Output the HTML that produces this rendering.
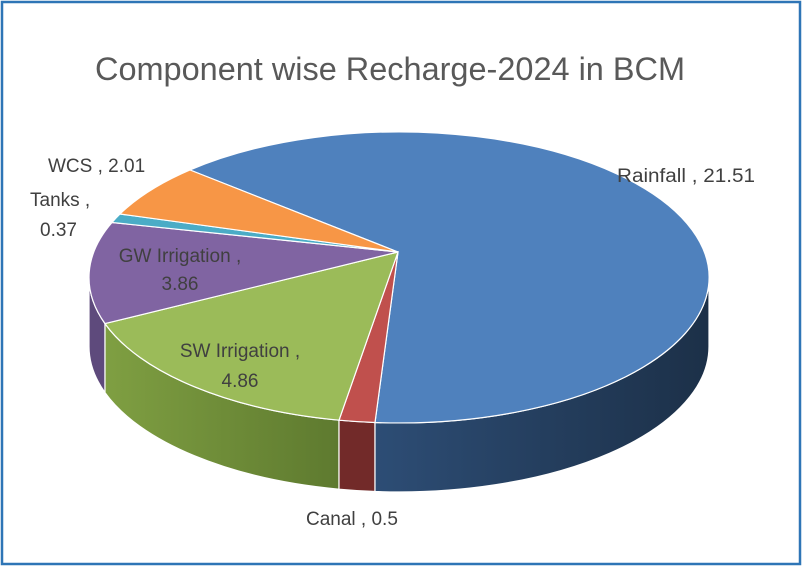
<!DOCTYPE html>
<html><head><meta charset="utf-8"><style>
html,body{margin:0;padding:0;background:#fff;}
svg{display:block;}
text{font-family:"Liberation Sans",sans-serif;}
</style></head><body>
<svg width="803" height="567" viewBox="0 0 803 567" xmlns="http://www.w3.org/2000/svg">
<defs>
<linearGradient id="gr" x1="0" x2="1" y1="0" y2="0"><stop offset="0" stop-color="#2d4d75"/><stop offset="1" stop-color="#1c3048"/></linearGradient>
<linearGradient id="gg" x1="0" x2="1" y1="0" y2="0"><stop offset="0" stop-color="#7f9f42"/><stop offset="1" stop-color="#5e7a2f"/></linearGradient>
</defs>
<rect x="2" y="2" width="798" height="562" fill="#fff" stroke="#2e75b6" stroke-width="2.5"/>
<text x="390" y="80" font-size="32" fill="#595959" text-anchor="middle" textLength="590" lengthAdjust="spacingAndGlyphs">Component wise Recharge-2024 in BCM</text>
<g stroke="#fff" stroke-width="1.2">
<path d="M89,277.5 A310,145.5 0 0 0 105,323.6 L105,392.6 A310,145.5 0 0 1 89,346.5 Z" fill="#5e4a7c"/>
<path d="M105,323.6 A310,145.5 0 0 0 339,420.2 L339,489.2 A310,145.5 0 0 1 105,392.6 Z" fill="url(#gg)"/>
<path d="M339,420.2 A310,145.5 0 0 0 375,422.5 L375,491.5 A310,145.5 0 0 1 339,489.2 Z" fill="#722a29"/>
<path d="M375,422.5 A310,145.5 0 0 0 709,277.5 L709,346.5 A310,145.5 0 0 1 375,491.5 Z" fill="url(#gr)"/>
<path d="M398,252 L190,170 A310,145.5 0 1 1 375,422.5 Z" fill="#4f81bd"/>
<path d="M398,252 L375,422.5 A310,145.5 0 0 1 339,420.2 Z" fill="#c0504d"/>
<path d="M398,252 L339,420.2 A310,145.5 0 0 1 105,323.6 Z" fill="#9bbb59"/>
<path d="M398,252 L105,323.6 A310,145.5 0 0 1 112,222.5 Z" fill="#8064a2"/>
<path d="M398,252 L112,222.5 A310,145.5 0 0 1 120,214 Z" fill="#4bacc6"/>
<path d="M398,252 L120,214 A310,145.5 0 0 1 190,170 Z" fill="#f79646"/>
</g>
<g font-size="19" fill="#404040">
<text x="617" y="182" textLength="138" lengthAdjust="spacingAndGlyphs">Rainfall , 21.51</text>
<text x="48" y="172">WCS , 2.01</text>
<text x="30" y="206">Tanks  ,</text>
<text x="40" y="236">0.37</text>
<text x="180" y="262" text-anchor="middle">GW Irrigation ,</text>
<text x="180" y="290" text-anchor="middle">3.86</text>
<text x="240" y="357" text-anchor="middle">SW Irrigation ,</text>
<text x="240" y="387" text-anchor="middle">4.86</text>
<text x="306" y="525">Canal , 0.5</text>
</g>
</svg>
</body></html>
